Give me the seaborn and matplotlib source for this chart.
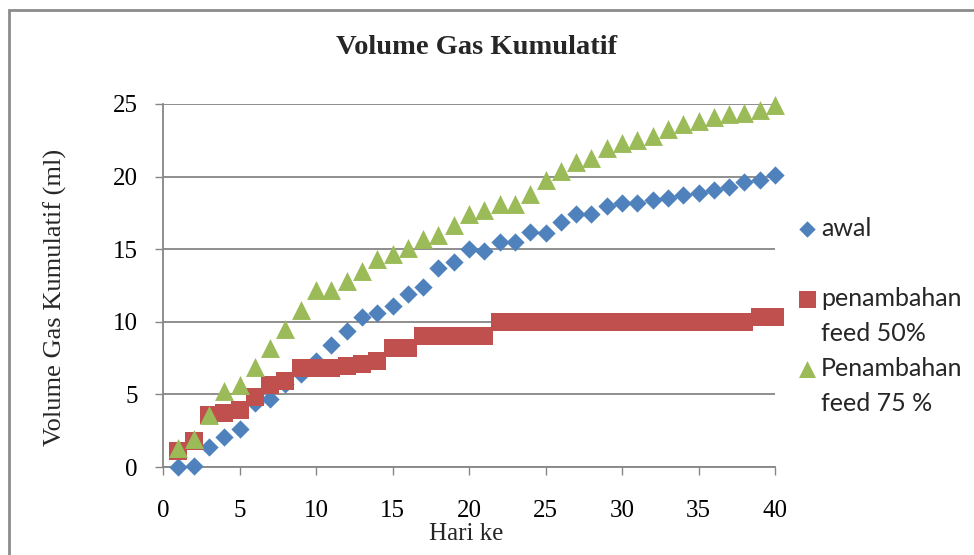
import matplotlib
matplotlib.use("Agg")
import matplotlib.pyplot as plt
import matplotlib.patches as mpatches
import seaborn as sns
import pandas as pd

hari = list(range(1, 41))
awal = [0.0, 0.1, 1.4, 2.1, 2.6, 4.4, 4.7, 5.7, 6.4, 7.3,
        8.4, 9.4, 10.3, 10.6, 11.1, 11.9, 12.4, 13.7, 14.1, 15.0,
        14.9, 15.5, 15.5, 16.2, 16.1, 16.9, 17.4, 17.4, 18.0, 18.2,
        18.2, 18.4, 18.5, 18.7, 18.9, 19.1, 19.3, 19.6, 19.8, 20.1]
feed50 = [1.1, 1.8, 3.6, 3.7, 3.9, 4.8, 5.65, 5.9, 6.8, 6.8,
          6.8, 6.95, 7.1, 7.3, 8.2, 8.2, 9.0, 9.0, 9.0, 9.0,
          9.0, 10.0, 10.0, 10.0, 10.0, 10.0, 10.0, 10.0, 10.0, 10.0,
          10.0, 10.0, 10.0, 10.0, 10.0, 10.0, 10.0, 10.0, 10.35, 10.35]
feed75 = [1.33, 1.9, 3.6, 5.25, 5.65, 6.9, 8.2, 9.5, 10.8, 12.2,
          12.2, 12.8, 13.5, 14.3, 14.7, 15.1, 15.7, 16.0, 16.7, 17.4,
          17.7, 18.1, 18.1, 18.8, 19.8, 20.4, 21.0, 21.3, 22.0, 22.3,
          22.5, 22.8, 23.3, 23.6, 23.8, 24.1, 24.3, 24.4, 24.6, 24.9]

legend_first = ["awal", "penambahan", "Penambahan"]
legend_second = ["", "feed 50%", "feed 75 %"]
colors = ["#4F81BD", "#C0504D", "#9BBB59"]
markers = ["D", "s", "^"]
msizes = [9.3, 13.6, 13.6]
xticks = [0, 5, 10, 15, 20, 25, 30, 35, 40]
yticks = [0, 5, 10, 15, 20, 25]

sns.set_theme(style="white")
plt.rcParams["font.family"] = ["Liberation Serif", "DejaVu Serif"]

fig = plt.figure(figsize=(9.74, 5.55), dpi=100)
ax = fig.add_axes([163/974, 1-467/555, 612/974, 363/555])

series = [awal, feed50, feed75]
for vals, lab, col, mk, ms in zip(series, legend_first, colors, markers, msizes):
    df = pd.DataFrame({"hari": hari, "vol": vals})
    sns.scatterplot(data=df, x="hari", y="vol", ax=ax, color=col, marker=mk,
                    s=ms**2, linewidth=0, label=lab, zorder=3, clip_on=False)

ax.set_xlim(0, 40)
ax.set_ylim(0, 25)
ax.set_xticks(xticks)
ax.set_yticks(yticks)
ax.set_xticklabels([str(v) for v in xticks], fontsize=18)
ax.set_yticklabels([str(v) for v in yticks], fontsize=18)
gray = "#868686"
ax.yaxis.grid(True, color=gray, linewidth=1.3)
ax.xaxis.grid(False)
ax.set_axisbelow(True)
for side in ["top", "right"]:
    ax.spines[side].set_visible(False)
for side in ["left", "bottom"]:
    ax.spines[side].set_color(gray)
    ax.spines[side].set_linewidth(1.3)
ax.tick_params(axis="x", direction="out", length=5.5, width=1.0, color=gray,
               pad=18, bottom=True, labelcolor="black")
ax.tick_params(axis="y", direction="out", length=6, width=1.0, color=gray,
               pad=12, left=True, labelcolor="black")

ax.set_xlabel("Hari ke", fontsize=18, va="top")
ax.xaxis.set_label_coords(0.495, -0.155)
ax.set_ylabel("Volume Gas Kumulatif (ml)", fontsize=19)
ax.yaxis.set_label_coords(-0.157, 0.468)

fig.text(477/974, 1-47/555, "Volume Gas Kumulatif", ha="center", va="center",
         fontsize=20.5, fontweight="bold")

legfont = {"family": ["Lato", "DejaVu Sans"], "size": 18}
leg = ax.legend(loc="upper left", bbox_to_anchor=(1.036, 0.69), frameon=False,
                prop=legfont, handletextpad=0.15, labelspacing=1.88,
                borderaxespad=0, borderpad=0, handlelength=0.8,
                markerscale=0.9)

fig.canvas.draw()
texts = leg.get_texts()
for t, extra in zip(texts, legend_second):
    if not extra:
        continue
    bb = t.get_window_extent()
    fig.text(bb.x0 / 974, (bb.y0 - 35) / 555, extra, ha="left", va="bottom",
             fontfamily=["Lato", "DejaVu Sans"], fontsize=18)

border = mpatches.Rectangle((9/974, -0.2), 1.2, 0.2 + 1 - 10/555,
                            transform=fig.transFigure, fill=False,
                            edgecolor="#8c8c8c", linewidth=2)
fig.patches.append(border)

fig.savefig("out.png", dpi=100)
